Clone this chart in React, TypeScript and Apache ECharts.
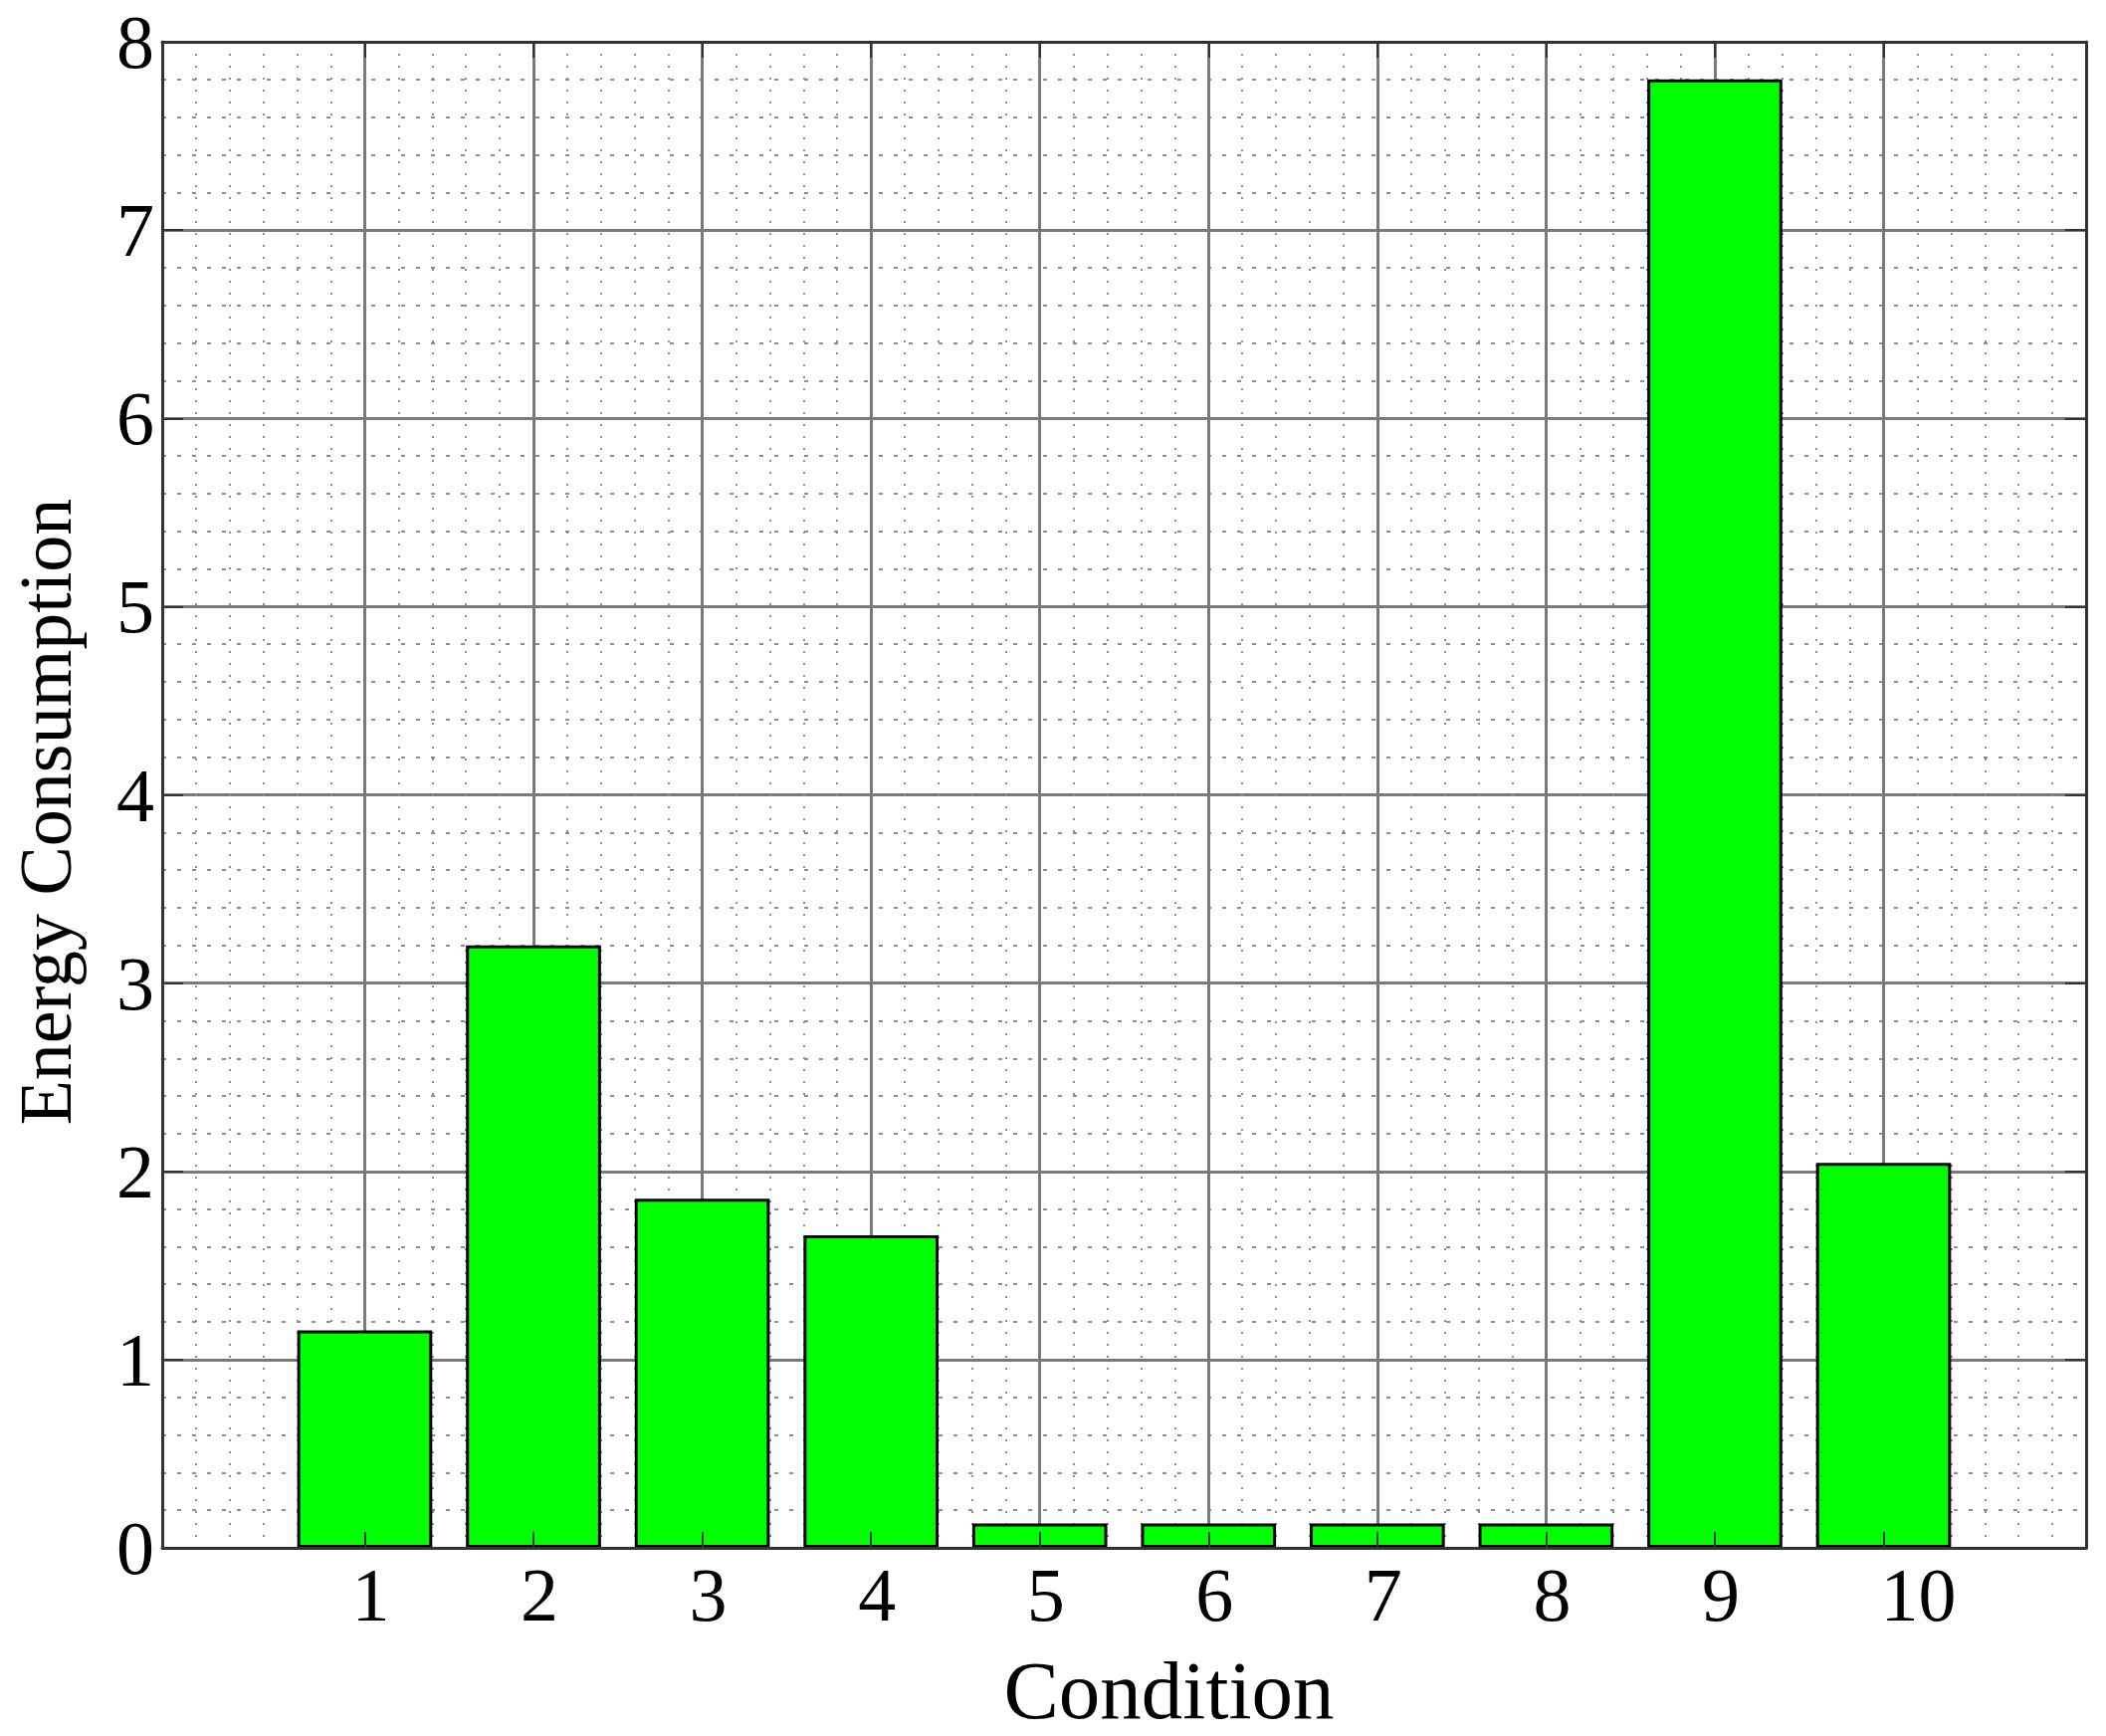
import React, { useEffect, useRef } from "react";
import * as echarts from "echarts";

const conditions = [1, 2, 3, 4, 5, 6, 7, 8, 9, 10];
const energy = [1.155, 3.2, 1.855, 1.66, 0.13, 0.13, 0.13, 0.13, 7.8, 2.045];
const xRange = [-0.2, 11.2];
const yRange = [0, 8];

export default function App() {
  const ref = useRef<HTMLDivElement>(null);

  useEffect(() => {
    if (!ref.current) return;
    const chart = echarts.init(ref.current, null, { renderer: "svg" });
    const font = "'Liberation Serif', 'Times New Roman', serif";
    const dark = "#333333";
    const majorColor = "#7a7a7a";
    const minorColor = "#8e8e8e";
    const hidden = {
      axisLine: { show: false },
      axisTick: { show: false },
      axisLabel: { show: false },
    };
    const labelStyle = { fontFamily: font, fontSize: 76, color: "#000" };

    chart.setOption({
      animation: false,
      backgroundColor: "#ffffff",
      textStyle: { fontFamily: font },
      grid: { left: 163, top: 42, right: 20, bottom: 189, show: false, outerBoundsMode: "none" },
      xAxis: [
        {
          type: "value",
          position: "bottom",
          min: xRange[0],
          max: xRange[1],
          z: 5,
          axisLine: { show: true, onZero: false, lineStyle: { color: dark, width: 3 } },
          axisTick: { show: true, inside: true, length: 16, customValues: conditions, lineStyle: { color: dark, width: 2 } },
          axisLabel: {
            show: true,
            customValues: conditions,
            margin: 9,
            ...labelStyle,
            formatter: (v: number) => (v >= 10 ? "{w|" + v + "}" : "{n|" + v + "}"),
            rich: {
              n: { ...labelStyle, padding: [0, 0, 0, 12] },
              w: { ...labelStyle, padding: [0, 0, 0, 70] },
            },
          },
          splitLine: { show: false },
          name: "Condition",
          nameLocation: "middle",
          nameGap: 101,
          nameMoveOverlap: false,
          nameTextStyle: { fontFamily: font, fontSize: 83, color: "#000", padding: [0, 0, 0, 90] },
        },
        {
          type: "value",
          position: "bottom",
          min: xRange[0],
          max: xRange[1],
          interval: 0.2,
          z: 0,
          ...hidden,
          splitLine: { show: true, lineStyle: { color: minorColor, width: 2, type: [2, 10] } },
        },
        {
          type: "value",
          position: "bottom",
          min: xRange[0],
          max: xRange[1],
          z: 0,
          axisLine: { show: false },
          axisTick: { show: false, customValues: conditions },
          axisLabel: { show: false, customValues: conditions },
          splitLine: { show: true, lineStyle: { color: majorColor, width: 3 } },
        },
        {
          type: "value",
          position: "top",
          min: xRange[0],
          max: xRange[1],
          z: 5,
          axisLine: { show: true, onZero: false, lineStyle: { color: dark, width: 3 } },
          axisTick: { show: true, inside: true, length: 16, customValues: conditions, lineStyle: { color: dark, width: 2 } },
          axisLabel: { show: false },
          splitLine: { show: false },
        },
      ],
      yAxis: [
        {
          type: "value",
          position: "left",
          min: yRange[0],
          max: yRange[1],
          interval: 1,
          z: 5,
          axisLine: { show: true, onZero: false, lineStyle: { color: dark, width: 3 } },
          axisTick: { show: true, inside: true, length: 21, lineStyle: { color: dark, width: 2 } },
          axisLabel: { show: true, margin: 8, ...labelStyle },
          splitLine: { show: false },
          name: "Energy Consumption",
          nameLocation: "middle",
          nameGap: 80,
          nameMoveOverlap: false,
          nameTextStyle: { fontFamily: font, fontSize: 74, color: "#000", padding: [0, 34, 0, 0] },
        },
        {
          type: "value",
          position: "left",
          min: yRange[0],
          max: yRange[1],
          interval: 1,
          z: 0,
          ...hidden,
          splitLine: { show: true, lineStyle: { color: majorColor, width: 3 } },
          minorTick: { show: false, splitNumber: 5 },
          minorSplitLine: { show: true, lineStyle: { color: minorColor, width: 2, type: [4, 11] } },
        },
        {
          type: "value",
          position: "right",
          min: yRange[0],
          max: yRange[1],
          interval: 1,
          z: 5,
          axisLine: { show: true, onZero: false, lineStyle: { color: dark, width: 3 } },
          axisTick: { show: true, inside: true, length: 21, lineStyle: { color: dark, width: 2 } },
          axisLabel: { show: false },
          splitLine: { show: false },
        },
      ],
      series: [
        {
          type: "bar",
          xAxisIndex: 0,
          yAxisIndex: 0,
          data: conditions.map((c, i) => [c, energy[i]]),
          barWidth: "80%",
          z: 2,
          itemStyle: { color: "#00ff00", borderColor: "#000000", borderWidth: 3 },
        },
      ],
    });

    return () => {
      chart.dispose();
    };
  }, []);

  return (
    <div
      ref={ref}
      style={{ position: "fixed", left: 0, top: 0, width: 2116, height: 1744, background: "#fff" }}
    />
  );
}
